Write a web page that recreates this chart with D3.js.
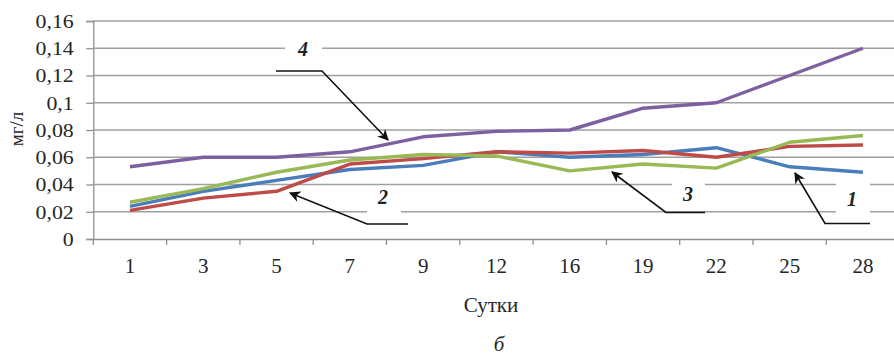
<!DOCTYPE html>
<html><head><meta charset="utf-8">
<script src="https://cdn.jsdelivr.net/npm/d3@7"></script>
<style>html,body{margin:0;padding:0;background:#fff;}svg{display:block;}</style>
</head><body>
<svg id="c" width="894" height="358"></svg>
<script>
const categories = ["1","3","5","7","9","12","16","19","22","25","28"];
const series1 = [0.024,0.035,0.043,0.051,0.054,0.064,0.060,0.062,0.067,0.053,0.049];
const series2 = [0.021,0.030,0.035,0.055,0.059,0.064,0.063,0.065,0.060,0.068,0.069];
const series3 = [0.027,0.037,0.049,0.058,0.062,0.061,0.050,0.055,0.052,0.071,0.076];
const series4 = [0.053,0.060,0.060,0.064,0.075,0.079,0.080,0.096,0.100,0.120,0.140];
const yTicks = [0,0.02,0.04,0.06,0.08,0.1,0.12,0.14,0.16];
const yTickLabels = ["0","0,02","0,04","0,06","0,08","0,1","0,12","0,14","0,16"];
const seriesNames = ["1","2","3","4"];
const colors = ["#4a7ebb","#be4b48","#98b954","#7d60a0"];

(function(){
const svg = d3.select("#c");
const font = "'Liberation Serif','Times New Roman',serif";
const txt = "#262626";
const mLeft = 93.3, mRight = 899.6, mTop = 21, mBottom = 239;
const x = d3.scaleBand().domain(categories).range([mLeft, mRight]).padding(0);
const y = d3.scaleLinear().domain([0, 0.16]).range([mBottom, mTop]);

// gridlines
svg.append("g").selectAll("line").data(yTicks.slice(1)).join("line")
  .attr("x1", mLeft).attr("x2", mRight)
  .attr("y1", d => y(d)).attr("y2", d => y(d))
  .attr("stroke", "#a0a0a0").attr("stroke-width", 1.3);

// y axis
const yAxis = d3.axisLeft(y).tickValues(yTicks).tickSize(7).tickPadding(8)
  .tickFormat((d,i) => yTickLabels[i]);
const gy = svg.append("g").attr("transform", `translate(${mLeft},0)`).call(yAxis);
gy.select(".domain").attr("stroke", "#909090").attr("stroke-width", 1.3);
gy.selectAll(".tick line").attr("stroke", "#909090").attr("stroke-width", 1.3);
gy.selectAll("text").attr("font-family", font).attr("font-size", 19).attr("fill", txt)
  .attr("dy", "0.34em").attr("x", -17).attr("transform", "scale(1.15,1)");

// x axis
const xAxis = d3.axisBottom(x).tickSize(0).tickPadding(0);
const gx = svg.append("g").attr("transform", `translate(0,${mBottom})`).call(xAxis);
gx.select(".domain").attr("stroke", "#909090").attr("stroke-width", 1.3);
gx.selectAll("text").attr("font-family", font).attr("font-size", 21).attr("fill", txt)
  .attr("dy", null).attr("y", 34);
const bounds = categories.map(c => x(c)).concat([x(categories[categories.length-1]) + x.bandwidth()]);
svg.append("g").selectAll("line").data(bounds).join("line")
  .attr("x1", d => d).attr("x2", d => d).attr("y1", mBottom).attr("y2", mBottom + 6)
  .attr("stroke", "#909090").attr("stroke-width", 1.3);

// series lines
const all = [series1, series2, series3, series4];
const line = d3.line().x((d,i) => x(categories[i]) + x.bandwidth()/2).y(d => y(d));
all.forEach((s, k) => {
  svg.append("path").datum(s).attr("d", line).attr("fill", "none")
    .attr("stroke", colors[k]).attr("stroke-width", 3.4).attr("stroke-linejoin", "round");
});

// annotations
const defs = svg.append("defs");
defs.append("marker").attr("id", "ah").attr("viewBox", "0 0 10 10").attr("refX", 9).attr("refY", 5)
  .attr("markerWidth", 7).attr("markerHeight", 7).attr("orient", "auto-start-reverse")
  .append("path").attr("d", "M0,0 L10,5 L0,10 L3,5 Z").attr("fill", "#111");

const ann = [
  {name:"4", box:[285,38,37,22], lx:303, ly:56, path:[[276,71],[322,71],[388,140]]},
  {name:"2", box:[367,186,34,28], lx:383, ly:204, path:[[408,224],[367,224],[290,193]]},
  {name:"3", box:[672,180,33,24], lx:688, ly:201, path:[[705,212.5],[666,212.5],[612,172]]},
  {name:"1", box:[836,180,34,40], lx:852, ly:206, path:[[870,223.5],[825,223.5],[795,173]]}
];
ann.forEach(a => {
  svg.append("rect").attr("x", a.box[0]).attr("y", a.box[1]).attr("width", a.box[2]).attr("height", a.box[3]).attr("fill", "#fff");
  svg.append("text").attr("x", a.lx).attr("y", a.ly).attr("text-anchor", "middle")
    .attr("font-family", font).attr("font-style", "italic").attr("font-weight", "bold")
    .attr("font-size", 20).attr("fill", "#222").text(a.name);
  svg.append("path").attr("d", d3.line()(a.path)).attr("fill", "none")
    .attr("stroke", "#111").attr("stroke-width", 1.6).attr("marker-end", "url(#ah)");
});

// axis titles
svg.append("text").attr("transform", "translate(23,129) rotate(-90)").attr("text-anchor", "middle")
  .attr("font-family", font).attr("font-size", 19).attr("fill", txt).text("мг/л");
svg.append("text").attr("x", 491).attr("y", 312).attr("text-anchor", "middle")
  .attr("font-family", font).attr("font-size", 21).attr("fill", txt).text("Сутки");
svg.append("text").attr("x", 499).attr("y", 351).attr("text-anchor", "middle")
  .attr("font-family", font).attr("font-style", "italic").attr("font-size", 21).attr("fill", txt).text("б");
})();
</script>
</body></html>
